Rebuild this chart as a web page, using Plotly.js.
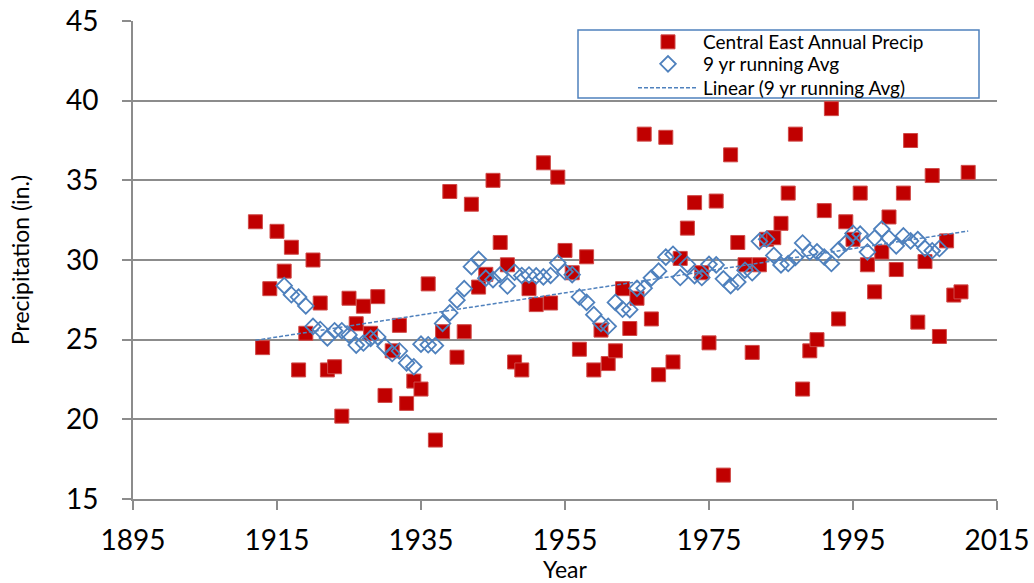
<!DOCTYPE html>
<html>
<head>
<meta charset="utf-8">
<script src="https://cdn.plot.ly/plotly-3.0.1.min.js"></script>
<style>
  html, body { margin: 0; padding: 0; background: #ffffff; }
  #chart { width: 1034px; height: 583px; }
</style>
</head>
<body>
<div id="chart"></div>
<script>
// Annual precipitation (in.), Central East
const years = [1912,1913,1914,1915,1916,1917,1918,1919,1920,1921,1922,1923,1924,1925,1926,1927,1928,1929,1930,1931,
  1932,1933,1934,1935,1936,1937,1938,1939,1940,1941,1942,1943,1944,1945,1946,1947,1948,1949,1950,1951,
  1952,1953,1954,1955,1956,1957,1958,1959,1960,1961,1962,1963,1964,1965,1966,1967,1968,1969,1970,1971,
  1972,1973,1974,1975,1976,1977,1978,1979,1980,1981,1982,1983,1984,1985,1986,1987,1988,1989,1990,1991,
  1992,1993,1994,1995,1996,1997,1998,1999,2000,2001,2002,2003,2004,2005,2006,2007,2008,2009,2010,2011];
const precip = [32.4,24.5,28.2,31.8,29.3,30.8,23.1,25.4,30.0,27.3,23.1,23.3,20.2,27.6,26.0,27.1,25.4,27.7,21.5,24.3,
  25.9,21.0,22.4,21.9,28.5,18.7,25.5,34.3,23.9,25.5,33.5,28.3,29.1,35.0,31.1,29.7,23.6,23.1,28.2,27.2,
  36.1,27.3,35.2,30.6,29.2,24.4,30.2,23.1,25.6,23.5,24.3,28.2,25.7,27.6,37.9,26.3,22.8,37.7,23.6,30.1,
  32.0,33.6,29.2,24.8,33.7,16.5,36.6,31.1,29.7,24.2,29.7,31.3,31.4,32.3,34.2,37.9,21.9,24.3,25.0,33.1,
  39.5,26.3,32.4,31.3,34.2,29.7,28.0,30.5,32.7,29.4,34.2,37.5,26.1,29.9,35.3,25.2,31.2,27.8,28.0,35.5];

// 9 yr running average (read from the open diamonds)
const avgYears = [1916,1917,1918,1919,1920,1921,1922,1923,1924,1925,1926,1927,1928,1929,1930,1931,1932,1933,1934,1935,
  1936,1937,1938,1939,1940,1941,1942,1943,1944,1945,1946,1947,1948,1949,1950,1951,1952,1953,1954,1955,
  1956,1957,1958,1959,1960,1961,1962,1963,1964,1965,1966,1967,1968,1969,1970,1971,1972,1973,1974,1975,
  1976,1977,1978,1979,1980,1981,1982,1983,1984,1985,1986,1987,1988,1989,1990,1991,1992,1993,1994,1995,
  1996,1997,1998,1999,2000,2001,2002,2003,2004,2005,2006,2007];
const avgValues = [28.39,27.82,27.67,27.12,25.83,25.64,25.11,25.56,25.56,25.30,24.66,24.79,25.08,25.17,24.59,24.13,24.29,23.54,23.30,24.72,
  24.68,24.63,26.02,26.68,27.48,28.20,29.58,30.04,28.86,28.77,29.07,28.37,29.23,29.03,29.06,29.00,28.94,29.03,29.82,29.26,
  29.08,27.68,27.34,26.57,26.02,25.84,27.34,26.91,26.88,28.22,28.23,28.88,29.30,30.18,30.36,28.90,29.72,29.02,28.90,29.73,
  29.69,28.82,28.39,28.62,29.36,29.20,31.17,31.31,30.29,29.69,29.78,30.16,31.07,30.50,30.51,30.19,29.78,30.64,31.06,31.67,
  31.62,30.50,31.38,31.94,31.37,30.89,31.51,31.20,31.28,30.73,30.58,30.72];

// Linear trend of the running average (end points)
const trendYears = [1912, 2011];
const trendValues = [24.96, 31.82];

const xTicks = [1895, 1915, 1935, 1955, 1975, 1995, 2015];
const yTicks = [15, 20, 25, 30, 35, 40, 45];

const blue = '#4f81bd';
const grid = '#8c8c8c';
const fontFam = 'Lato, "Open Sans", sans-serif';

const traces = [
  {
    x: years, y: precip, type: 'scatter', mode: 'markers',
    name: 'Central East Annual Precip', legend: 'legend',
    marker: { symbol: 'square', size: 14, color: '#c00000', line: { color: '#cf4a48', width: 1 } }
  },
  {
    x: avgYears, y: avgValues, type: 'scatter', mode: 'markers',
    name: '9 yr running Avg', legend: 'legend2',
    marker: { symbol: 'diamond-open', size: 12, color: blue, line: { color: blue, width: 1.8 } }
  },
  {
    x: trendYears, y: trendValues, type: 'scatter', mode: 'lines',
    name: 'Linear (9 yr running Avg)', legend: 'legend3',
    line: { color: blue, width: 1.5, dash: '4px,2px' }
  }
];

const plotW = 864, plotH = 478, mL = 133, mT = 21;
function legendAt(rowCenterY) {
  return {
    x: (633 - mL) / plotW, y: 1 - (rowCenterY - mT) / plotH, xanchor: 'left', yanchor: 'middle',
    bgcolor: 'rgba(0,0,0,0)', borderwidth: 0,
    font: { family: fontFam, size: 19, color: '#000000' },
    itemwidth: 60
  };
}
const layout = {
  width: 1034, height: 583,
  margin: { l: mL, r: 37, t: mT, b: 84 },
  paper_bgcolor: '#ffffff', plot_bgcolor: '#ffffff',
  font: { family: fontFam, color: '#000000' },
  showlegend: true,
  legend: legendAt(42),
  legend2: legendAt(64),
  legend3: legendAt(88),
  shapes: [
    { type: 'rect', xref: 'paper', yref: 'paper',
      x0: (578 - mL) / plotW, x1: (979 - mL) / plotW,
      y0: 1 - (98 - mT) / plotH, y1: 1 - (30 - mT) / plotH,
      line: { color: blue, width: 1.5 }, fillcolor: '#ffffff', layer: 'above' }
  ],
  xaxis: {
    range: [1895, 2015], tickvals: xTicks, ticktext: xTicks.map(String),
    showgrid: false, zeroline: false,
    showline: true, linecolor: grid, linewidth: 2,
    ticks: 'outside', ticklen: 9, tickwidth: 2, tickcolor: grid,
    tickfont: { family: fontFam, size: 28, color: '#000000' },
    ticklabelstandoff: 6,
    title: { text: 'Year', font: { family: fontFam, size: 23, color: '#000000' }, standoff: 6 }
  },
  yaxis: {
    range: [15, 45], tickvals: yTicks, ticktext: yTicks.map(String),
    showgrid: true, gridcolor: grid, gridwidth: 2, zeroline: false,
    showline: true, linecolor: grid, linewidth: 2,
    ticks: 'outside', ticklen: 9, tickwidth: 2, tickcolor: grid,
    tickfont: { family: fontFam, size: 28, color: '#000000' },
    ticklabelstandoff: 18,
    title: { text: 'Precipitation (in.)', font: { family: fontFam, size: 23, color: '#000000' }, standoff: 30 }
  }
};

Plotly.newPlot('chart', traces, layout, { displayModeBar: false, staticPlot: true });
</script>
</body>
</html>
